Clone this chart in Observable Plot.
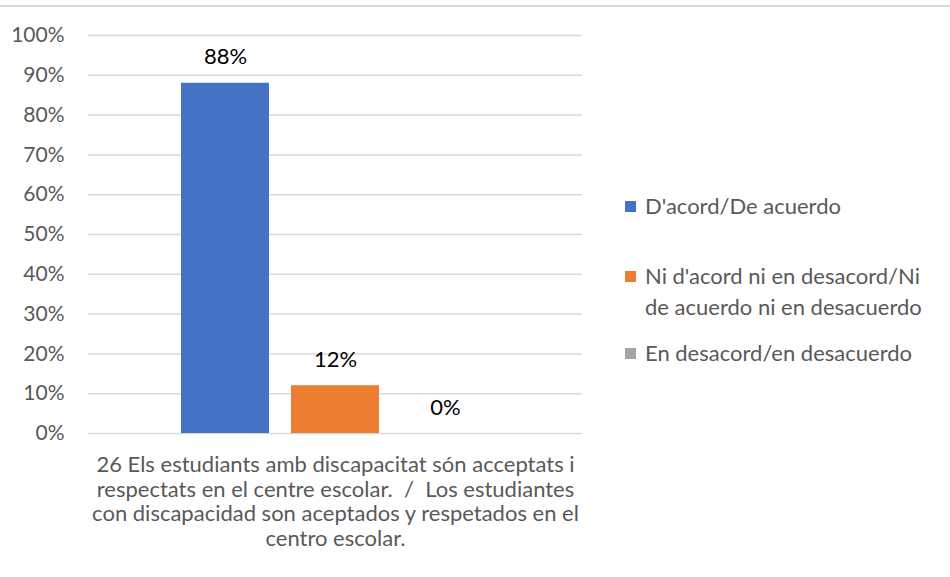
<!DOCTYPE html>
<html>
<head>
<meta charset="utf-8">
<script src="https://cdn.jsdelivr.net/npm/d3@7"></script>
<script src="https://cdn.jsdelivr.net/npm/@observablehq/plot@0.6"></script>
<style>
  html, body { margin: 0; padding: 0; background: #fff; }
  #wrap { position: relative; width: 950px; height: 577px; font-family: Lato, "Open Sans", sans-serif; }
  #topline { position: absolute; left: 0; top: 5px; width: 950px; height: 0; border-top: 2px solid #d9d9d9; }
  #legend { position: absolute; left: 625px; top: 190px; width: 325px; color: #595959; font-size: 22px; line-height: 31px; white-space: nowrap; }
  .item { display: flex; align-items: flex-start; margin-bottom: 0; }
  .sw { width: 11px; height: 11px; flex: none; margin-right: 9px; margin-top: 11px; }
</style>
</head>
<body>
<div id="wrap">
  <div id="topline"></div>
  <div id="chart"></div>
  <div id="legend"></div>
</div>
<script>
const category = "26 Els estudiants amb discapacitat són acceptats i\nrespectats en el centre escolar.  /  Los estudiantes\ncon discapacidad son aceptados y respetados en el\ncentro escolar.";
const series = ["D'acord/De acuerdo", "Ni d'acord ni en desacord/Ni de acuerdo ni en desacuerdo", "En desacord/en desacuerdo"];
const legendLabels = ["D'acord/De acuerdo", "Ni d'acord ni en desacord/Ni\nde acuerdo ni en desacuerdo", "En desacord/en desacuerdo"];
const values = [0.88, 0.12, 0.0];
const colors = ["#4472C4", "#ED7D31", "#A5A5A5"];
const yTicks = [0, 0.1, 0.2, 0.3, 0.4, 0.5, 0.6, 0.7, 0.8, 0.9, 1.0];

const data = series.map((s, i) => ({series: s, value: values[i]}));

const chart = Plot.plot({
  width: 950,
  height: 577,
  marginLeft: 88,
  marginRight: 368,
  marginTop: 35,
  marginBottom: 144,
  style: {fontFamily: "Lato, 'Open Sans', sans-serif", background: "transparent"},
  x: {domain: series, range: [181, 489], paddingInner: 0.2, paddingOuter: 0, axis: null},
  y: {domain: [0, 1], ticks: yTicks, tickFormat: d3.format(".0%"), tickSize: 0, tickPadding: 24, label: null},
  color: {domain: series, range: colors},
  marks: [
    Plot.gridY(yTicks, {stroke: "#d9d9d9", strokeOpacity: 1, strokeWidth: 1.5}),
    Plot.axisY({ticks: yTicks, tickFormat: d3.format(".0%"), tickSize: 0, tickPadding: 24, fontSize: 21, fill: "#595959", label: null}),
    Plot.barY(data, {x: "series", y: "value", fill: "series"}),
    Plot.text(data, {x: "series", y: "value", text: d => d3.format(".0%")(d.value), dy: -26, fontSize: 22, fill: "#000"}),
    Plot.text([category], {text: d => d, frameAnchor: "bottom", lineAnchor: "top", dy: 21, lineHeight: 1.12, fontSize: 22, fill: "#595959"})
  ]
});
document.getElementById("chart").appendChild(chart);

const legend = document.getElementById("legend");
const gaps = [39, 15, 0];
legendLabels.forEach((lab, i) => {
  const item = document.createElement("div");
  item.className = "item";
  item.style.marginBottom = gaps[i] + "px";
  const sw = document.createElement("div");
  sw.className = "sw";
  sw.style.background = colors[i];
  const t = document.createElement("div");
  t.innerHTML = lab.replace("\n", "<br>");
  item.appendChild(sw);
  item.appendChild(t);
  legend.appendChild(item);
});
</script>
</body>
</html>
